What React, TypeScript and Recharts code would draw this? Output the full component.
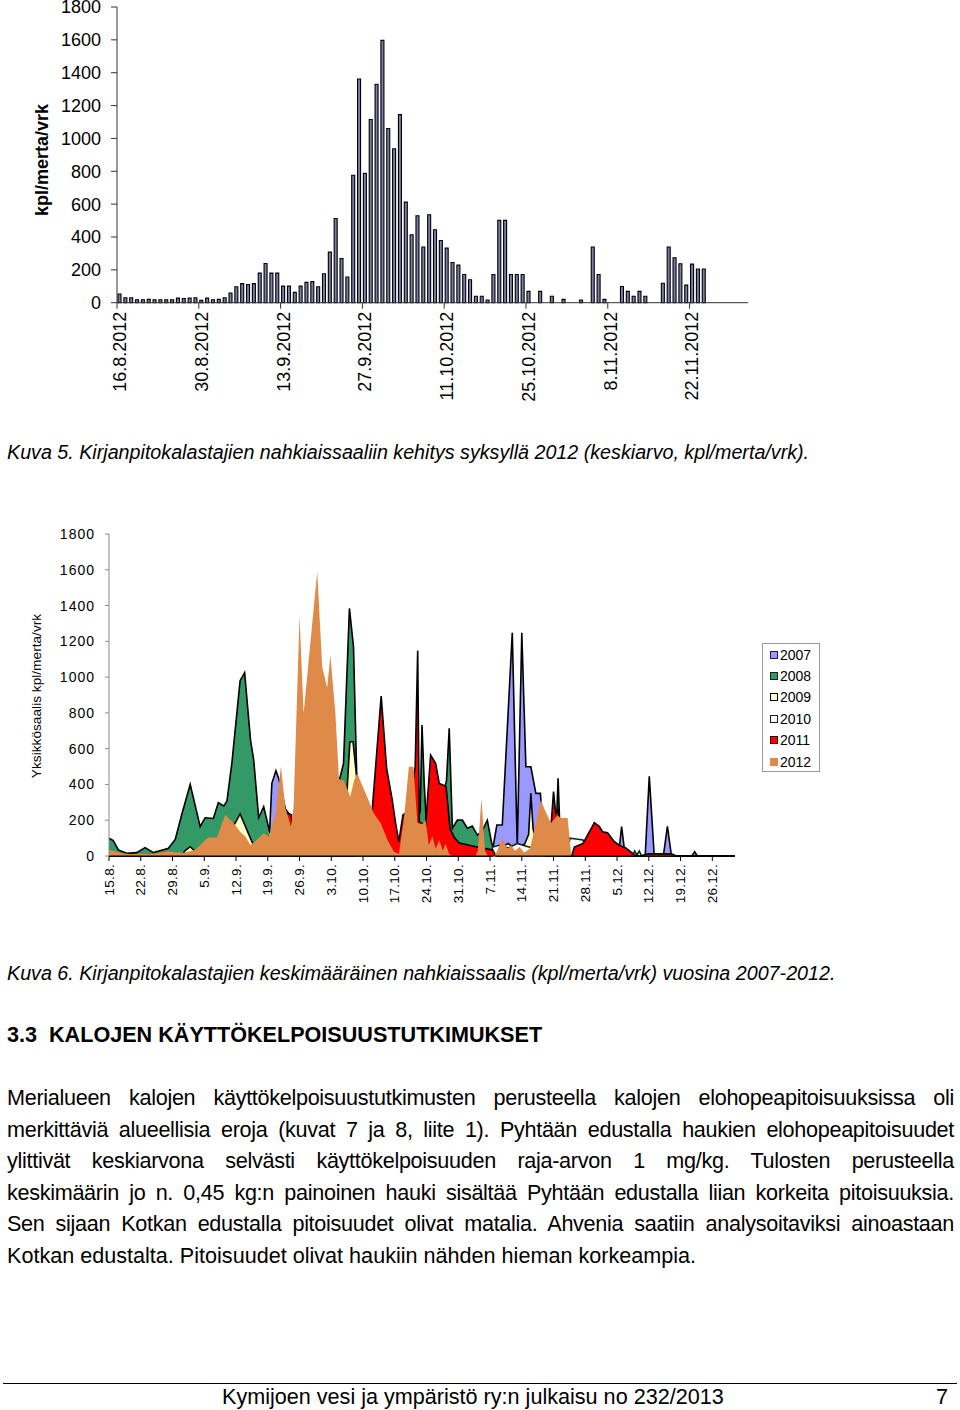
import React from "react";
import { BarChart, Bar, XAxis, YAxis, AreaChart, Area, Legend } from "recharts";

const FONT = '"Liberation Sans", Arial, Helvetica, sans-serif';

// ---------- Chart 1 (Kuva 5) ----------
const BAR_DATES = [
  "16.8.2012","17.8.2012","18.8.2012","19.8.2012","20.8.2012","21.8.2012","22.8.2012","23.8.2012","24.8.2012","25.8.2012","26.8.2012","27.8.2012","28.8.2012","29.8.2012","30.8.2012","31.8.2012",
  "1.9.2012","2.9.2012","3.9.2012","4.9.2012","5.9.2012","6.9.2012","7.9.2012","8.9.2012","9.9.2012","10.9.2012","11.9.2012","12.9.2012","13.9.2012","14.9.2012","15.9.2012","16.9.2012","17.9.2012","18.9.2012","19.9.2012","20.9.2012","21.9.2012","22.9.2012","23.9.2012","24.9.2012","25.9.2012","26.9.2012","27.9.2012","28.9.2012","29.9.2012","30.9.2012",
  "1.10.2012","2.10.2012","3.10.2012","4.10.2012","5.10.2012","6.10.2012","7.10.2012","8.10.2012","9.10.2012","10.10.2012","11.10.2012","12.10.2012","13.10.2012","14.10.2012","15.10.2012","16.10.2012","17.10.2012","18.10.2012","19.10.2012","20.10.2012","21.10.2012","22.10.2012","23.10.2012","24.10.2012","25.10.2012","26.10.2012","27.10.2012","28.10.2012","29.10.2012","30.10.2012","31.10.2012",
  "1.11.2012","2.11.2012","3.11.2012","4.11.2012","5.11.2012","6.11.2012","7.11.2012","8.11.2012","9.11.2012","10.11.2012","11.11.2012","12.11.2012","13.11.2012","14.11.2012","15.11.2012","16.11.2012","17.11.2012","18.11.2012","19.11.2012","20.11.2012","21.11.2012","22.11.2012","23.11.2012","24.11.2012","25.11.2012","26.11.2012","27.11.2012","28.11.2012","29.11.2012","30.11.2012",
  "1.12.2012",
];

const BAR_VALUES: (number | null)[] = [
  53, 30, 30, 18, 18, 20, 18, 18, 18, 18, 28, 26, 28, 30, 14, 28, 18, 20, 30, 59,
  97, 116, 111, 116, 180, 239, 180, 180, 101, 101, 63, 101, 124, 128, 97, 176, 308, 513, 268, 156,
  776, 1362, 787, 1115, 1330, 1597, 1060, 937, 1145, 612, 414, 529, 339, 535, 444, 379, 332, 245, 229, 172,
  140, 39, 39, 16, 172, 501, 501, 172, 172, 172, 69, null, 69, null, 39, null, 20, null, null, 16,
  null, 339, 172, 20, null, null, 99, 69, 39, 69, 39, null, null, 118, 339, 274, 237, 107, 235, 205,
  205, null, null, null, null, null, null, null,
];

const BAR_Y_TICKS = [0, 200, 400, 600, 800, 1000, 1200, 1400, 1600, 1800];

const BAR_ROWS = BAR_DATES.map((d, i) => ({ date: d, v: BAR_VALUES[i] }));

// ---------- Chart 2 (Kuva 6) ----------
const AREA_TICK_DAYS = [0, 7, 14, 21, 28, 35, 42, 49, 56, 63, 70, 77, 84, 91, 98, 105, 112, 119, 126, 133];
const AREA_TICK_LABELS = ["15.8.", "22.8.", "29.8.", "5.9.", "12.9.", "19.9.", "26.9.", "3.10.", "10.10.", "17.10.", "24.10.", "31.10.", "7.11.", "14.11.", "21.11.", "28.11.", "5.12.", "12.12.", "19.12.", "26.12."];
const AREA_Y_TICKS = [0, 200, 400, 600, 800, 1000, 1200, 1400, 1600, 1800];

// [day since 15.8., value]
const S2007: [number, number][] = [
  [0, 0], [34.8, 0], [35.4, 136], [35.9, 406], [36.8, 477], [37.4, 434], [38.9, 262], [39.6, 240], [41, 0],
  [83.8, 0], [84.6, 40], [85.5, 173], [86.7, 173], [88.9, 1248], [90, 50], [91, 1248], [91.9, 499], [93, 499], [94.1, 350], [95.1, 350], [96, 30], [96.6, 0],
  [112.3, 0], [113, 164], [113.8, 0],
  [118.2, 0], [119.1, 445], [120.2, 0],
  [122.2, 0], [123.1, 166], [124, 0],
  [128.5, 0], [129.1, 24], [129.7, 0], [138, 0],
];
const S2008: [number, number][] = [
  [0, 99], [0.95, 86], [2.06, 34], [3.9, 15], [6.1, 19], [7.95, 47], [9.8, 19], [12, 35], [13.1, 43], [14.6, 93], [16.1, 238], [17.9, 400], [20.1, 164], [21.2, 214], [23, 210], [24.1, 298], [25.3, 280], [26, 307], [27.1, 522], [28.9, 980], [29.9, 1025], [31.2, 648], [31.9, 537], [33, 214], [34.1, 276], [35.4, 136], [36.5, 100], [38, 90], [40, 80], [42, 100],
  [50.8, 425], [51.7, 518], [53, 1384], [53.9, 1170], [54.6, 463], [56, 300], [60, 100], [62, 30], [65, 30], [67, 100],
  [68.6, 250], [69, 732], [69.5, 400], [70, 164], [72, 200], [74.4, 420], [75, 714], [75.7, 155], [76.8, 201], [77.9, 201], [79, 155], [80.1, 167], [81.2, 117], [82.3, 140], [83.4, 200], [84.3, 80], [85, 20], [86, 0],
  [98.6, 150], [99, 434], [99.4, 150], [99.8, 0], [138, 0],
];
const S2009: [number, number][] = [
  [0, 0], [16, 0], [16.8, 30], [17.9, 52], [19, 25], [20, 0],
  [25, 0], [26, 120], [27.5, 170], [28.9, 235], [30, 170], [31.5, 80], [32.5, 30], [33.5, 0],
  [50, 0], [52.4, 330], [53.1, 639], [53.8, 639], [54.6, 440], [56, 300], [58, 0],
  [84.5, 0], [85.5, 30], [86.5, 50], [88, 70], [89.5, 40], [91.5, 60], [92.5, 120], [93, 350], [93.5, 150], [94.5, 60], [95.5, 20], [96.5, 0], [138, 0],
];
const S2010: [number, number][] = [
  [0, 0], [83.8, 0], [84.6, 50], [86, 60], [88, 45], [90, 70], [92, 55], [94, 40], [95, 20], [96, 0],
  [101, 0], [101.6, 100], [103, 95], [104.5, 90], [105.5, 30], [106, 0],
  [115.4, 0], [115.9, 28], [116.4, 5], [116.9, 28], [117.4, 0], [138, 0],
];
const S2011: [number, number][] = [
  [0, 0], [37.5, 0], [38.8, 245], [40.2, 230], [41, 0],
  [54, 0], [56, 150], [58, 248], [60, 894], [61.2, 490], [62.4, 320], [63.2, 180], [63.9, 80], [64.8, 230], [66, 250], [67.5, 500], [68.05, 1148], [68.4, 190], [69.8, 170], [70.9, 564], [72, 518], [72.8, 406], [74.3, 390], [75.2, 150], [76.2, 100], [77.2, 72], [80.9, 52], [84.6, 34], [85.3, 0],
  [96.8, 0], [97.4, 150], [98, 360], [98.5, 230], [99, 260], [99.6, 150], [100.2, 0],
  [102, 0], [102.6, 50], [104.5, 70], [107, 186], [108.1, 164], [108.8, 136], [109.9, 130], [111.4, 80], [112.5, 60], [114, 43], [115.9, 5], [117, 0], [119, 12], [124, 12], [125, 0], [138, 0],
];
const S2012: [number, number][] = [
  [0, 34], [1.5, 25], [3, 15], [5, 10], [7, 12], [9, 10], [11, 18], [13, 25], [15, 20], [16.5, 18], [18, 28], [19, 34], [20.8, 80], [21.9, 104], [23.8, 104], [25.6, 229], [27.5, 183], [28.9, 136], [30, 110], [31.2, 61], [32.6, 89], [34.1, 127], [35.2, 108], [36.7, 238], [37.9, 500], [38.9, 267], [40.1, 164], [40.7, 276], [42, 1340], [42.9, 798], [45.9, 1590], [47, 1058], [48.1, 940], [48.8, 1124], [49.9, 800], [50.7, 430], [51.8, 420], [52.6, 370], [53.2, 330], [54, 420], [54.7, 462], [56.9, 331], [58.4, 238], [59.9, 183], [61.4, 89], [62.8, 24], [63.9, 11], [65, 201], [66.1, 499], [67.1, 499], [68, 184], [69.1, 179], [69.8, 200], [70.5, 60], [71.3, 110], [72, 40], [72.8, 89], [73.6, 30], [74.2, 70], [75, 10], [76, 0],
  [80.8, 0], [81.3, 30], [82.1, 322], [82.9, 30], [83.5, 0],
  [85, 0], [85.6, 30], [86.7, 99], [87.8, 40], [88.6, 60], [89.5, 30], [90.5, 50], [91.5, 20], [92.8, 40], [93.8, 150], [95.2, 313], [96.2, 250], [97.4, 184], [98.9, 226], [99.6, 212], [101.1, 212], [101.9, 0], [138, 0],
];

const SERIES = [
  { key: "y2007", name: "2007", points: S2007, fill: "#9999ff", stroke: "#000000", mark: "#1a1a4d" },
  { key: "y2008", name: "2008", points: S2008, fill: "#339966", stroke: "#000000", mark: "#0d2619" },
  { key: "y2009", name: "2009", points: S2009, fill: "#ffffcc", stroke: "#000000", mark: "#000000" },
  { key: "y2010", name: "2010", points: S2010, fill: "#f4fbf6", stroke: "#0f2a1a", mark: "#0f2a1a" },
  { key: "y2011", name: "2011", points: S2011, fill: "#ff0000", stroke: "#000000", mark: "#400000" },
  { key: "y2012", name: "2012", points: S2012, fill: "#df8a48", stroke: "none", mark: "#df8a48" },
];

const AREA_DAYS = Array.from(new Set(SERIES.flatMap((s) => s.points.map((p) => p[0])))).sort((a, b) => a - b);
const AREA_ROWS = AREA_DAYS.map((d) => {
  const row: Record<string, number | null> = { day: d };
  SERIES.forEach((s) => {
    const p = s.points.find((q) => q[0] === d);
    row[s.key] = p ? p[1] : null;
  });
  return row;
});

// ---------- Text ----------
const PARAGRAPH = [
  "Merialueen kalojen käyttökelpoisuustutkimusten perusteella kalojen elohopeapitoisuuksissa oli",
  "merkittäviä alueellisia eroja (kuvat 7 ja 8, liite 1). Pyhtään edustalla haukien elohopeapitoisuudet",
  "ylittivät keskiarvona selvästi käyttökelpoisuuden raja-arvon 1 mg/kg. Tulosten perusteella",
  "keskimäärin jo n. 0,45 kg:n painoinen hauki sisältää Pyhtään edustalla liian korkeita pitoisuuksia.",
  "Sen sijaan Kotkan edustalla pitoisuudet olivat matalia. Ahvenia saatiin analysoitaviksi ainoastaan",
  "Kotkan edustalta. Pitoisuudet olivat haukiin nähden hieman korkeampia.",
];
const PARA_CENTERS = [1098, 1130, 1161, 1193, 1224, 1256];

const BAR_PLOT_WIDTH = 631;

function BarTick(props: any) {
  const { x, y, payload } = props;
  const half = BAR_PLOT_WIDTH / BAR_DATES.length / 2;
  return (
    <g>
      <line x1={x - half} x2={x - half} y1={y - 9} y2={y - 3} stroke="#333" strokeWidth={1} />
      <text x={x} y={y} transform={`rotate(-90 ${x} ${y})`} textAnchor="end" dominantBaseline="central" fontSize={18} fill="#000" fontFamily={FONT}>
        {payload.value}
      </text>
    </g>
  );
}

function AreaTick(props: any) {
  const { x, y, payload } = props;
  const i = AREA_TICK_DAYS.indexOf(payload.value);
  return (
    <text x={x} y={y} transform={`rotate(-90 ${x} ${y})`} textAnchor="end" dominantBaseline="central" fontSize={13.5} letterSpacing={0.3} fill="#000" fontFamily={FONT}>
      {AREA_TICK_LABELS[i]}
    </text>
  );
}

function AreaLegend() {
  return (
    <div style={{ boxSizing: "border-box", width: 58, height: 129, border: "1px solid #9a9a9a", background: "#fff", paddingLeft: 7, fontFamily: FONT, fontSize: 14, color: "#000" }}>
      {SERIES.map((s) => (
        <div key={s.key} style={{ height: 21.4, display: "flex", alignItems: "center" }}>
          <span style={{ display: "inline-block", boxSizing: "border-box", width: 8, height: 8, background: s.fill, border: `1px solid ${s.mark}`, marginRight: 2 }} />
          <span>{s.name}</span>
        </div>
      ))}
    </div>
  );
}

export default function App() {
  return (
    <div style={{ position: "absolute", left: 0, top: 0, width: 960, height: 1410, background: "#fff", fontFamily: FONT, color: "#000", overflow: "hidden" }}>
      <div style={{ position: "absolute", left: 0, top: 0 }}>
        <BarChart width={960} height={410} data={BAR_ROWS} margin={{ top: 7, right: 212, bottom: 0, left: 0 }} barCategoryGap={0}>
          <XAxis
            dataKey="date"
            type="category"
            interval={13}
            height={107.3}
            tick={<BarTick />}
            tickLine={false}
            tickSize={6}
            tickMargin={3}
            axisLine={{ stroke: "#333", strokeWidth: 1 }}
          />
          <YAxis
            width={117}
            domain={[0, 1800]}
            ticks={BAR_Y_TICKS}
            interval={0}
            tick={{ fontSize: 18, fill: "#000", fontFamily: FONT }}
            tickSize={6}
            tickMargin={10}
            tickLine={{ stroke: "#333" }}
            axisLine={{ stroke: "#333", strokeWidth: 1 }}
            label={() => (
              <text x={42} y={160} transform="rotate(-90 42 160)" textAnchor="middle" dominantBaseline="central" fontSize={18} fontWeight="bold" fill="#000" fontFamily={FONT}>
                kpl/merta/vrk
              </text>
            )}
          />
          <Bar dataKey="v" fill="#7d7dab" stroke="#000" strokeWidth={1.1} barSize={3} isAnimationActive={false} />
        </BarChart>
      </div>

      <div style={{ position: "absolute", left: 7, top: 440, fontSize: 19.7, lineHeight: "24px", fontStyle: "italic", whiteSpace: "nowrap" }}>
        Kuva 5. Kirjanpitokalastajien nahkiaissaaliin kehitys syksyllä 2012 (keskiarvo, kpl/merta/vrk).
      </div>

      <div style={{ position: "absolute", left: 0, top: 500 }}>
        <AreaChart width={960} height={410} data={AREA_ROWS} margin={{ top: 34, right: 225, bottom: 0, left: 0 }}>
          <XAxis
            dataKey="day"
            type="number"
            domain={[0, 138]}
            ticks={AREA_TICK_DAYS}
            interval={0}
            height={54}
            tick={<AreaTick />}
            tickSize={5}
            tickMargin={3}
            tickLine={{ stroke: "#000" }}
            axisLine={{ stroke: "#000", strokeWidth: 1.2 }}
            allowDataOverflow
          />
          <YAxis
            width={109}
            domain={[0, 1800]}
            ticks={AREA_Y_TICKS}
            interval={0}
            tick={{ fontSize: 14, fill: "#000", fontFamily: FONT, letterSpacing: 1 }}
            tickSize={4}
            tickMargin={10}
            tickLine={{ stroke: "#8a8a8a" }}
            axisLine={{ stroke: "#8a8a8a", strokeWidth: 1 }}
            label={() => (
              <text x={36} y={196} transform="rotate(-90 36 196)" textAnchor="middle" dominantBaseline="central" fontSize={13.7} fill="#000" fontFamily={FONT}>
                Yksikkösaalis kpl/merta/vrk
              </text>
            )}
          />
          {SERIES.map((s) => (
            <Area
              key={s.key}
              type="linear"
              dataKey={s.key}
              name={s.name}
              fill={s.fill}
              fillOpacity={1}
              stroke={s.stroke}
              strokeWidth={1.6}
              connectNulls
              dot={false}
              activeDot={false}
              isAnimationActive={false}
            />
          ))}
          <Legend layout="vertical" align="center" verticalAlign="middle" wrapperStyle={{ left: 762, top: 143, width: 58, height: 129 }} content={() => <AreaLegend />} />
        </AreaChart>
      </div>

      <div style={{ position: "absolute", left: 7, top: 961, fontSize: 19.7, lineHeight: "24px", fontStyle: "italic", whiteSpace: "nowrap" }}>
        Kuva 6. Kirjanpitokalastajien keskimääräinen nahkiaissaalis (kpl/merta/vrk) vuosina 2007-2012.
      </div>

      <div style={{ position: "absolute", left: 7, top: 1022, fontSize: 21.6, lineHeight: "26px", fontWeight: "bold", whiteSpace: "pre" }}>
        {"3.3  KALOJEN KÄYTTÖKELPOISUUSTUTKIMUKSET"}
      </div>

      {PARAGRAPH.map((line, i) => {
        const justified = i < PARAGRAPH.length - 1;
        return (
          <div
            key={i}
            style={{
              position: "absolute",
              left: 7,
              top: PARA_CENTERS[i] - 13,
              width: 947,
              fontSize: 21.6,
              lineHeight: "26px",
              letterSpacing: justified ? -0.3 : 0,
              textAlign: justified ? "justify" : "left",
              textAlignLast: justified ? "justify" : "left",
              whiteSpace: "normal",
            } as React.CSSProperties}
          >
            {line}
          </div>
        );
      })}

      <div style={{ position: "absolute", left: 3, top: 1383, width: 954, height: 0, borderTop: "1px solid #000" }} />
      <div style={{ position: "absolute", left: 222, top: 1384, fontSize: 21.6, lineHeight: "26px", whiteSpace: "nowrap" }}>
        Kymijoen vesi ja ympäristö ry:n julkaisu no 232/2013
      </div>
      <div style={{ position: "absolute", left: 936, top: 1384, fontSize: 21.6, lineHeight: "26px" }}>7</div>
    </div>
  );
}
